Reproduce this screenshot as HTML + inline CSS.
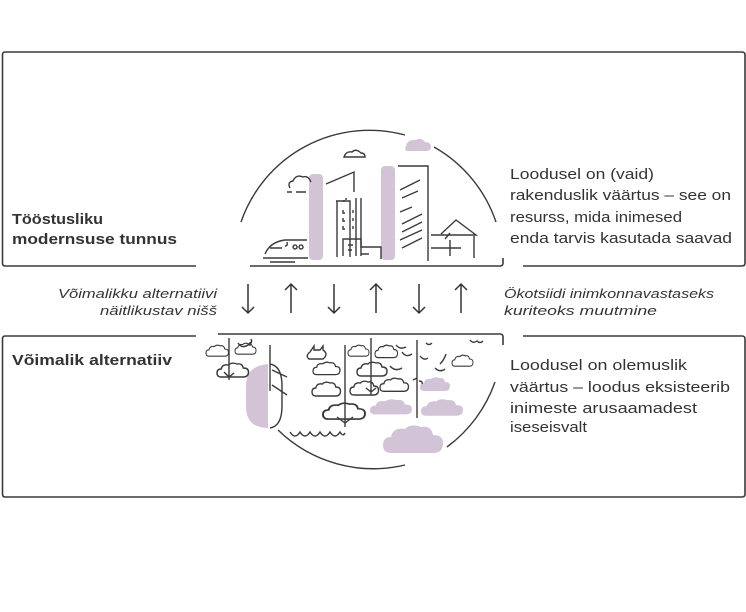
<!DOCTYPE html>
<html><head><meta charset="utf-8"><style>
body{margin:0;background:#fff;width:746px;height:612px;overflow:hidden}
svg{display:block}
text{font-family:"Liberation Sans",sans-serif;fill:#333}
</style></head><body>
<svg width="746" height="612" viewBox="0 0 746 612" xmlns="http://www.w3.org/2000/svg">
<defs>
<path id="c" d="M4 14 q-4 0 -4 -4 q0 -4 4 -4 q1 -5 7 -4 q3 -3 8 -1 q5 -1 6 4 q5 0 5 4 q0 5 -5 5 z"/>
</defs>
<g fill="none" stroke="#3a3a3a" stroke-width="1.6">
<path d="M196 266 H5 Q2.5 266 2.5 263 V55 Q2.5 52 5 52 H742 Q745 52 745 55 V263 Q745 266 742 266 H523"/>
<path d="M250 266 H500 Q503 266 503 263 V258"/>
<path d="M196 336 H5 Q2.5 336 2.5 339 V494 Q2.5 497 5 497 H742 Q745 497 745 494 V339 Q745 336 742 336 H523"/>
<path d="M218 334 H500 Q503 334 503 337 V345"/>
</g>
<g fill="none" stroke="#333" stroke-width="1.5">
<path d="M248 284 V313 M242 307 L248 313 L254 307"/>
<path d="M291 313 V284 M285 290 L291 284 L297 290"/>
<path d="M334 284 V313 M328 307 L334 313 L340 307"/>
<path d="M376 313 V284 M370 290 L376 284 L382 290"/>
<path d="M419 284 V313 M413 307 L419 313 L425 307"/>
<path d="M461 313 V284 M455 290 L461 284 L467 290"/>
</g>
<!-- top illustration -->
<g fill="#d2c4d6">
<rect x="309" y="174" width="14" height="86" rx="4"/>
<rect x="381" y="166" width="14" height="94" rx="4"/>
<path d="M406 146 q2-7 10-6 q5-3 9 2 q6 0 6 5 q0 4-5 4 h-18 q-4 0-2-5z"/>
</g>
<g fill="none" stroke="#3a3a3a" stroke-width="1.4">
<path d="M241 222 A136 136 0 0 1 405 135"/>
<path d="M434 147 A136 136 0 0 1 496 222"/>
<path d="M344 157 q2-6 8-5 q4-4 9 1 q4 0 4 4 h-20z"/>
<path d="M290 188 q-3-6 3-7 q3-7 10-4 q5-2 8 5 M287 192 h5 M296 192 h10"/>
<path d="M326 184 l28-12 v20 M336 201 h14 v56 M346 200 v-2"/>
<path d="M337 201 v56 M356 198 v58 M361 198 v58"/>
<path d="M344 200 v2 M343 210 v3 h2 M353 210 v3 M343 218 v3 h2 M353 218 v3 M343 226 v3 h2 M353 226 v3"/>
<path d="M343 256 v-17 h18 v8 h20 v12 M348 245 h5 M348 250 h4 M361 254 h8"/>
<path d="M398 166 h30 v95 M400 190 l20-10 M402 198 l16-7 M400 212 l12-5 M402 224 l20-10 M402 232 l20-10 M400 240 l22-10 M402 248 l20-10"/>
<path d="M431 235 h45 l-20-15 l-15 14 M450 233 l-5 6 M431 248 h30 M450 240 v16 M474 236 v22"/>
<path d="M263 258 h45 M265 254 q5-12 20-14 h22 M270 248 h12 M285 246 q3 0 2-4 M295 245 a2 2 0 1 0 0.1 0 M301 245 a2 2 0 1 0 0.1 0 M270 262 h25"/>
</g>
<!-- bottom illustration -->
<g fill="#d2c4d6">
<path d="M268 364 q-22 2-22 22 v20 q0 22 22 22 z"/>
<use href="#c" transform="translate(420,377) scale(1,1)"/>
<use href="#c" transform="translate(370,399) scale(1.4,1.1)"/>
<use href="#c" transform="translate(421,399) scale(1.4,1.2)"/>
<use href="#c" transform="translate(383,425) scale(2,2)"/>
</g>
<g fill="none" stroke="#3a3a3a" stroke-width="1.4">
<path d="M278 430 A137 137 0 0 0 405 465"/>
<path d="M447 447 A137 137 0 0 0 495 382"/>
<path d="M270 364 q12 2 12 22 v20 q0 20-12 22 M270 345 v46 M272 370 l15 7 M272 385 l15 10"/>
<path d="M229 338 v42 M224 372 l5 5 l5-4 M250 342 v4 M238 343 q4 6 10 2 q5-2 3-6"/>
<use href="#c" transform="translate(206,345) scale(0.75,0.8)"/>
<use href="#c" transform="translate(235,343) scale(0.7,0.8)"/>
<use href="#c" transform="translate(217,363) scale(1.05,1)"/>
<path d="M290 432 q5 8 10 0 q5 8 10 0 q5 8 10 0 q5 8 10 0 q5 8 10 0 q3 5 5 1"/>
<path d="M310 352 l4-6 v4 h6 l3-4 v4 q6 4 0 9 h-14 q-4-3 1-7z"/>
<path d="M345 345 v82"/>
<use href="#c" transform="translate(313,362) scale(0.9,0.9)"/>
<use href="#c" transform="translate(312,382) scale(0.95,1)"/>
<use href="#c" transform="translate(323,403) scale(1.4,1.15)"/>
<path d="M337 417 l8 6 l8-6"/>
<path d="M371 338 v57 M366 388 l5 4 l5-4"/>
<use href="#c" transform="translate(348,345) scale(0.7,0.8)"/>
<use href="#c" transform="translate(357,362) scale(1,1)"/>
<use href="#c" transform="translate(350,381) scale(0.95,1)"/>
<use href="#c" transform="translate(380,378) scale(0.95,0.95)"/>
<use href="#c" transform="translate(375,345) scale(0.75,0.9)"/>
<use href="#c" transform="translate(452,355) scale(0.7,0.8)"/>
<path d="M417 340 v78 M396 345 q4 5 10 2 M402 352 q4 6 10 2 M420 356 q4 5 8 2 M426 343 q3 3 6 0 M413 380 l4-2 M419 381 q4 0 3 3"/>
<path d="M470 340 q3 4 7 1 q3 3 6 0 M440 364 q4-4 6-10 M390 366 q5 6 12 2 M435 368 q5 5 10 1"/>
</g>
<!-- texts -->
<g font-size="15" font-weight="bold">
<text x="12" y="224" textLength="91" lengthAdjust="spacingAndGlyphs">Tööstusliku</text>
<text x="12" y="244" textLength="165" lengthAdjust="spacingAndGlyphs">modernsuse tunnus</text>
<text x="12" y="365" textLength="160" lengthAdjust="spacingAndGlyphs">Võimalik alternatiiv</text>
</g>
<g font-size="15">
<text x="510" y="179" textLength="144" lengthAdjust="spacingAndGlyphs">Loodusel on (vaid)</text>
<text x="510" y="200" textLength="221" lengthAdjust="spacingAndGlyphs">rakenduslik väärtus – see on</text>
<text x="510" y="222" textLength="172" lengthAdjust="spacingAndGlyphs">resurss, mida inimesed</text>
<text x="510" y="243" textLength="222" lengthAdjust="spacingAndGlyphs">enda tarvis kasutada saavad</text>
<text x="510" y="370" textLength="177" lengthAdjust="spacingAndGlyphs">Loodusel on olemuslik</text>
<text x="510" y="392" textLength="220" lengthAdjust="spacingAndGlyphs">väärtus – loodus eksisteerib</text>
<text x="510" y="413" textLength="187" lengthAdjust="spacingAndGlyphs">inimeste arusaamadest</text>
<text x="510" y="432" textLength="77" lengthAdjust="spacingAndGlyphs">iseseisvalt</text>
</g>
<g font-size="13" font-style="italic">
<text x="58" y="298" textLength="159" lengthAdjust="spacingAndGlyphs">Võimalikku alternatiivi</text>
<text x="100" y="315" textLength="117" lengthAdjust="spacingAndGlyphs">näitlikustav nišš</text>
<text x="504" y="298" textLength="210" lengthAdjust="spacingAndGlyphs">Ökotsiidi inimkonnavastaseks</text>
<text x="504" y="315" textLength="153" lengthAdjust="spacingAndGlyphs">kuriteoks muutmine</text>
</g>
</svg>
</body></html>
